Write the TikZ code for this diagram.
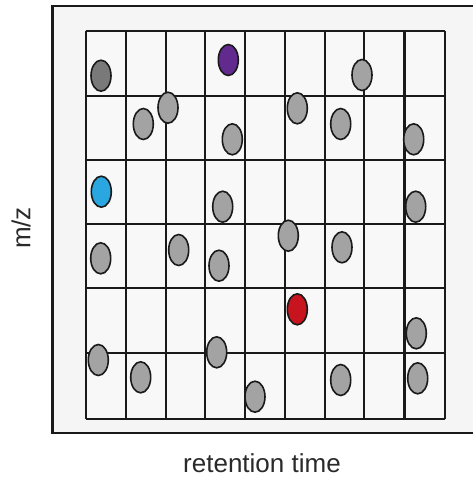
\documentclass[tikz,border=0pt]{standalone}
\usepackage{fontspec}
\setmainfont{Liberation Sans}
\usetikzlibrary{shapes.geometric}
\definecolor{bgfill}{HTML}{F5F5F5}
\definecolor{cellfill}{HTML}{F8F8F8}
\definecolor{linecol}{HTML}{1A1A1A}
\definecolor{dotgray}{HTML}{A3A3A3}
\definecolor{dotdark}{HTML}{797979}
\definecolor{dotpurple}{HTML}{62298F}
\definecolor{dotblue}{HTML}{2AA7E1}
\definecolor{dotred}{HTML}{C8141E}
\definecolor{txtcol}{HTML}{2A2A2A}
\tikzset{
  dot/.style={ellipse, draw=linecol, line width=1.6pt, fill=dotgray,
    minimum width=20pt, minimum height=31pt, inner sep=0pt},
  gridline/.style={draw=linecol, line width=2.2pt},
  frame/.style={draw=linecol, line width=2.2pt, fill=bgfill},
  axislabel/.style={text=txtcol, font=\fontsize{26}{30}\selectfont, inner sep=0pt}
}
\begin{document}
\begin{tikzpicture}[x=1pt,y=-1pt]
\useasboundingbox (0,0) rectangle (473,477);
\clip (0,0) rectangle (473,477);
\fill[white] (0,0) rectangle (473,477);
\draw[frame] (52.5,6) rectangle (480,433);
\fill[cellfill] (85.7,31) rectangle (444.8,419);
\foreach \x in {85.7,126.2,165.8,204.6,244.6,285,324.6,364.3,404.4,444.8}
  \draw[gridline] (\x,31) -- (\x,419);
\foreach \y in {31,96,160,224,288.3,353.3,419}
  \draw[gridline] (85.7,\y) -- (444.8,\y);
% peaks
\node[dot, fill=dotdark] (d1) at (101,75.7) {};
\node[dot, fill=dotpurple] (p1) at (228.3,60) {};
\node[dot] (g1) at (362,75) {};
\node[dot] (g2) at (143.3,124) {};
\node[dot] (g3) at (168,107.7) {};
\node[dot] (g4) at (232.3,139.3) {};
\node[dot] (g5) at (297.3,108.3) {};
\node[dot] (g6) at (340.7,124) {};
\node[dot] (g7) at (413.7,139.3) {};
\node[dot, fill=dotblue] (b1) at (101.3,191.7) {};
\node[dot] (g8) at (222.7,206.7) {};
\node[dot] (g9) at (415.7,206.7) {};
\node[dot] (g10) at (100.7,258.3) {};
\node[dot] (g11) at (178.7,250) {};
\node[dot] (g12) at (219,265.7) {};
\node[dot] (g13) at (288.3,235.7) {};
\node[dot] (g14) at (342,247.3) {};
\node[dot, fill=dotred] (r1) at (297.3,309.3) {};
\node[dot] (g15) at (416.3,333.3) {};
\node[dot] (g16) at (98.3,360) {};
\node[dot] (g17) at (216.7,352.3) {};
\node[dot] (g18) at (140.7,377.3) {};
\node[dot] (g19) at (255,396.7) {};
\node[dot] (g20) at (340.7,380) {};
\node[dot] (g21) at (417.7,378.3) {};
% labels
\node[axislabel, rotate=90] (mz) at (21,228) {m/z};
\node[axislabel] (rt) at (262,463) {retention time};
\end{tikzpicture}
\end{document}
